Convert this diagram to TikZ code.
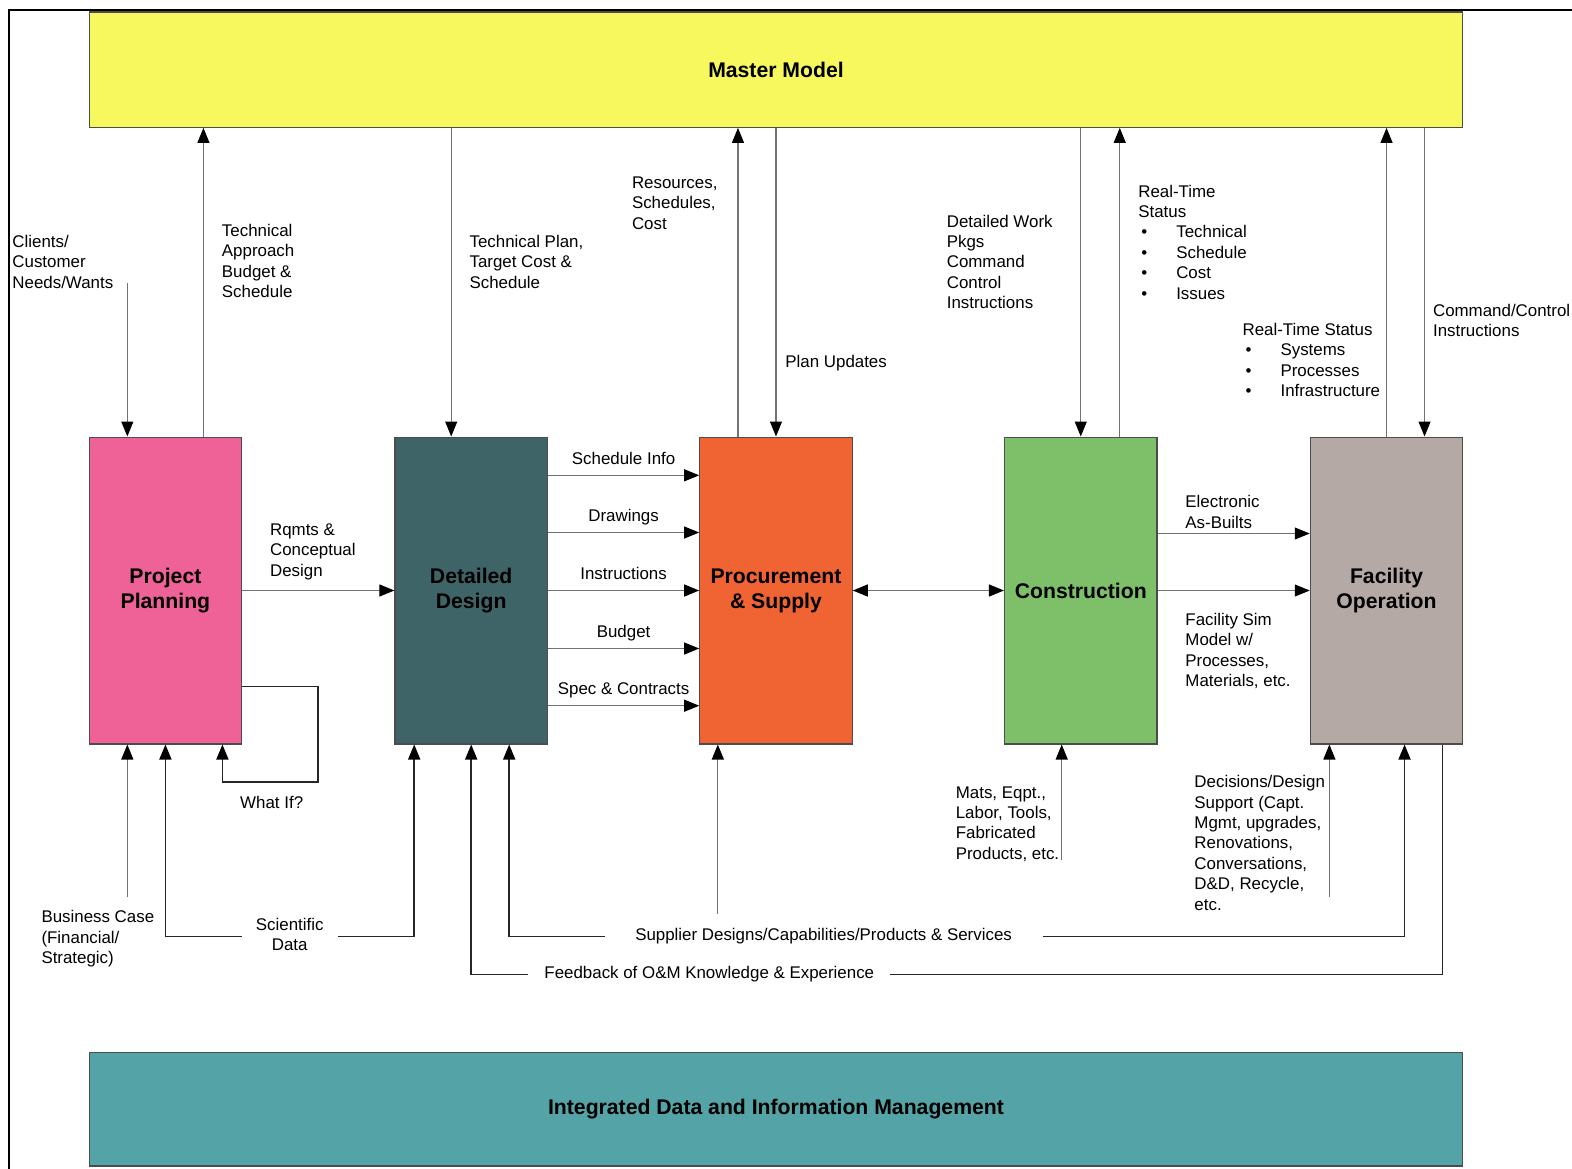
\documentclass[tikz,border=0pt]{standalone}
\usepackage{fontspec}
\setmainfont{Liberation Sans}
\usetikzlibrary{arrows.meta}
\definecolor{masteryellow}{RGB}{247,247,94}
\definecolor{idmteal}{RGB}{84,163,166}
\definecolor{planpink}{RGB}{238,98,152}
\definecolor{designteal}{RGB}{63,100,104}
\definecolor{procorange}{RGB}{240,100,52}
\definecolor{constgreen}{RGB}{126,192,106}
\definecolor{facgray}{RGB}{181,169,166}
\tikzset{
    bandbox/.style = {draw=black!70, line width=0.6pt, minimum width=686.7pt, font=\fontsize{10.6}{12.5}\selectfont\bfseries},
    stagebox/.style = {draw=black!70, line width=0.6pt, minimum width=76.2pt, minimum height=153.4pt, align=center, font=\fontsize{10.6}{12.5}\selectfont\bfseries},
    flow/.style = {draw=black!55, line width=0.55pt, -{Triangle[length=7.5pt, width=6pt, color=black]}},
    biflow/.style = {flow, {Triangle[length=7.5pt, width=6pt, color=black]}-{Triangle[length=7.5pt, width=6pt, color=black]}},
    route/.style = {draw=black!85, line width=0.8pt},
    lbltext/.style = {font=\fontsize{8.45}{10.2}\selectfont, inner sep=0pt},
    lbl/.style = {lbltext, align=left, anchor=north west},
}
\newcommand{\bul}[1]{\hspace*{1.5pt}\makebox[17.5pt][l]{\textbullet}#1}

\begin{document}
\begin{tikzpicture}[x=0.50128pt, y=-0.50128pt]
\useasboundingbox (0,0) rectangle (1568,1166);
\draw[line width=1.2pt] (9,1166) -- (9,10) -- (1568,10);

% bands
\node[bandbox, fill=masteryellow, minimum height=57.6pt] (master) at (774,69.5) {Master Model};
\node[bandbox, fill=idmteal, minimum height=56.6pt] (idm) at (774,1106.5) {Integrated Data and Information Management};

% stages
\node[stagebox, fill=planpink] (plan) at (165,589) {Project\\Planning};
\node[stagebox, fill=designteal] (design) at (470,589) {Detailed\\Design};
\node[stagebox, fill=procorange] (procure) at (774,589) {Procurement\\\& Supply};
\node[stagebox, fill=constgreen] (construct) at (1078,589) {Construction};
\node[stagebox, fill=facgray] (facility) at (1383,589) {Facility\\Operation};

% links to the master model
\coordinate (clients-in) at (127,282);
\draw[flow] (clients-in) -- (clients-in |- plan.north);
\coordinate (pp-up) at ([xshift=19pt]plan.north);
\draw[flow] (pp-up) -- (pp-up |- master.south);
\coordinate (dd-down) at ([xshift=-10pt]design.north);
\draw[flow] (dd-down |- master.south) -- (dd-down);
\coordinate (ps-up) at ([xshift=-19pt]procure.north);
\draw[flow] (ps-up) -- (ps-up |- master.south);
\draw[flow] (procure.north |- master.south) -- (procure.north);
\draw[flow] (construct.north |- master.south) -- (construct.north);
\coordinate (cn-up) at ([xshift=19.5pt]construct.north);
\draw[flow] (cn-up) -- (cn-up |- master.south);
\draw[flow] (facility.north) -- (facility.north |- master.south);
\coordinate (fo-down) at ([xshift=19pt]facility.north);
\draw[flow] (fo-down |- master.south) -- (fo-down);

\node[lbl] (clients) at (12,234) {Clients/\\Customer\\Needs/Wants};
\node[lbl] (techapp) at (221,223) {Technical\\Approach\\Budget \&\\Schedule};
\node[lbl] (techplan) at (468,234) {Technical Plan,\\Target Cost \&\\Schedule};
\node[lbl] (resources) at (630,176) {Resources,\\Schedules,\\Cost};
\node[lbl] (planupd) at (783,354) {Plan Updates};
\node[lbl] (workpkgs) at (944,214) {Detailed Work\\Pkgs\\Command\\Control\\Instructions};
\node[lbl] (rtstatus) at (1135,184) {Real-Time\\Status\\\bul{Technical}\\\bul{Schedule}\\\bul{Cost}\\\bul{Issues}};
\node[lbl] (rtsystems) at (1239,322) {Real-Time Status\\\bul{Systems}\\\bul{Processes}\\\bul{Infrastructure}};
\node[lbl] (cmdctrl) at (1429,303) {Command/Control\\Instructions};

% stage to stage
\draw[flow] (plan.east) -- (design.west);
\node[lbl] (rqmts) at (269,522) {Rqmts \&\\Conceptual\\Design};
\foreach \dy/\txt in {57.6/Schedule Info, 29/Drawings, 0/Instructions, -29/Budget, -57.6/Spec \& Contracts}
    \draw[flow] ([yshift=\dy pt]design.east) -- ([yshift=\dy pt]procure.west)
        node[midway, lbltext, anchor=base, yshift=5.5pt] {\txt};
\draw[biflow] (procure.east) -- (construct.west);
\draw[flow] ([yshift=28.5pt]construct.east) -- ([yshift=28.5pt]facility.west);
\draw[flow] (construct.east) -- (facility.west);
\node[lbl] (asbuilts) at (1182,494) {Electronic\\As-Builts};
\node[lbl] (simmodel) at (1182,611) {Facility Sim\\Model w/\\Processes,\\Materials, etc.};

% what if loop
\coordinate (wi-out) at ([yshift=-48pt]plan.east);
\coordinate (wi-turn) at (317,780);
\coordinate (wi-in) at ([xshift=28.5pt]plan.south);
\draw[flow, route] (wi-out) -| (wi-turn) -| (wi-in);
\node[lbltext] (whatif) at (271,800) {What If?};

% inputs from below
\coordinate (bizcase-in) at (127,895);
\draw[flow] (bizcase-in) -- (bizcase-in |- plan.south);
\node[lbl] (bizcase) at (41,908) {Business Case\\(Financial/\\Strategic)};
\coordinate (sci-l) at (241,934);
\draw[flow, route] (sci-l) -| (plan.south);
\coordinate (sci-r) at (337,934);
\coordinate (dd-sci) at ([xshift=-28.5pt]design.south);
\draw[flow, route] (sci-r) -| (dd-sci);
\node[lbltext, align=center] (scidata) at (289,932) {Scientific\\Data};
\coordinate (sup-l) at (603,934);
\coordinate (dd-sup) at ([xshift=19pt]design.south);
\draw[flow, route] (sup-l) -| (dd-sup);
\coordinate (sup-ps) at (716,912);
\draw[flow] (sup-ps) -- (sup-ps |- procure.south);
\coordinate (sup-r) at (1040,934);
\coordinate (fo-sup) at ([xshift=9pt]facility.south);
\draw[flow, route] (sup-r) -| (fo-sup);
\node[lbltext] (supplier) at (821.5,934) {Supplier Designs/Capabilities/Products \& Services};
\coordinate (fb-l) at (527,972);
\draw[flow, route] (fb-l) -| (design.south);
\coordinate (fb-r) at (888,972);
\coordinate (fo-fb) at ([xshift=28pt]facility.south);
\draw[route] (fo-fb) |- (fb-r);
\node[lbltext] (feedback) at (707.5,972) {Feedback of O\&M Knowledge \& Experience};
\coordinate (mats-in) at (1059,858);
\draw[flow] (mats-in) -- (mats-in |- construct.south);
\node[lbl] (mats) at (953,784) {Mats, Eqpt.,\\Labor, Tools,\\Fabricated\\Products, etc.};
\coordinate (decide-in) at (1326,895);
\draw[flow] (decide-in) -- (decide-in |- facility.south);
\node[lbl] (decide) at (1191,773) {Decisions/Design\\Support (Capt.\\Mgmt, upgrades,\\Renovations,\\Conversations,\\D\&D, Recycle,\\etc.};
\end{tikzpicture}
\end{document}
